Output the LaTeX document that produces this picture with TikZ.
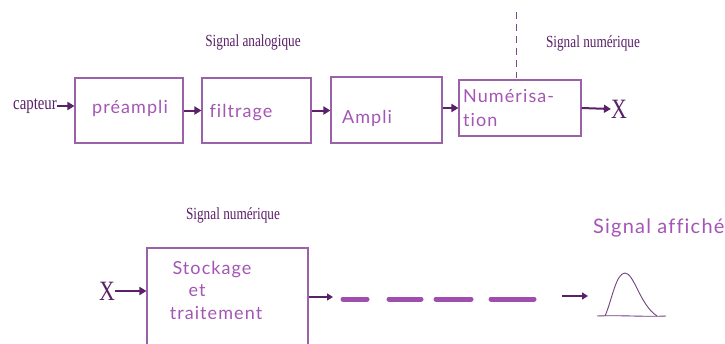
\documentclass[tikz,border=0pt]{standalone}
\usepackage{fontspec}
\usetikzlibrary{arrows.meta}
\newfontfamily\labelfont[FakeStretch=0.78]{Liberation Serif}
\newfontfamily\hand[LetterSpace=6,Ligatures=NoCommon]{Lato}
\definecolor{boxpurple}{HTML}{9A62A8}
\definecolor{darkpurple}{HTML}{5A2068}
\definecolor{inkpurple}{HTML}{A456B4}
\definecolor{dashpurple}{HTML}{A04DB0}
\tikzset{
  block/.style={draw=boxpurple, line width=1.1pt, fill=white, inner sep=0pt},
  lbl/.style={font=\labelfont\fontsize{17}{19}\selectfont, text=darkpurple, inner sep=0pt},
  inked/.style={font=\hand\fontsize{18}{20}\selectfont, text=inkpurple, inner sep=0pt},
  flow/.style={draw=darkpurple, line width=2pt, -{Triangle[length=7pt,width=8pt]}},
  thinflow/.style={draw=darkpurple, line width=1.4pt, -{Triangle[length=6pt,width=7pt]}},
  bigx/.style={font=\labelfont\fontsize{28}{30}\selectfont, text=darkpurple, inner sep=0pt},
  thickdash/.style={draw=dashpurple, line width=5pt, line cap=round}
}
\begin{document}
\begin{tikzpicture}[x=1pt,y=-1pt]
\clip (0,0) rectangle (725,343);
\fill[white] (0,0) rectangle (725,343);

% --- top row: analogue chain ---
\node[lbl] (analog) at (253,42) {Signal analogique};
\node[lbl] (numtop) at (593,43) {Signal numérique};
\coordinate (sepTop) at (516,12);
\coordinate (sepBot) at (516,78);
\draw[darkpurple!80, line width=0.9pt, dash pattern=on 7pt off 5pt] (sepTop) -- (sepBot);

\node[lbl, anchor=east, font=\labelfont\fontsize{19}{21}\selectfont] (capteur) at (57,106) {capteur};
\node[block, minimum width=108pt, minimum height=65pt] (b1) at (129,110.5) {};
\node[block, minimum width=109pt, minimum height=65pt] (b2) at (256.5,110.5) {};
\node[block, minimum width=111pt, minimum height=66pt] (b3) at (386.5,110) {};
\node[block, minimum width=122pt, minimum height=56pt] (b4) at (520,108) {};
\node[bigx] (xout) at (619,109) {X};

\node[inked] (t1) at (130,108) {préampli};
\node[inked] (t2) at (241,113) {filtrage};
\node[inked] (t3) at (367,118) {Ampli};
\node[inked, anchor=west] (t4a) at (463,96) {Numérisa-};
\node[inked, anchor=west] (t4b) at (463,120) {tion};

\draw[flow] (capteur.east) -- (b1.west |- capteur.east);
\draw[flow] (b1.east) -- (b2.west);
\draw[flow] (b2.east) -- (b3.west |- b2.east);
\draw[flow] (b3.east |- b4.east) -- (b4.west);
\draw[flow] (b4.east) -- (xout.west);

% --- bottom row: digital processing and display ---
\node[lbl] (numbot) at (233,215) {Signal numérique};
\node[bigx] (xin) at (107,291) {X};
\node[block, minimum width=161pt, minimum height=112pt] (b5) at (227.5,304) {};
\node[inked] (s1) at (212,270) {Stockage};
\node[inked] (s2) at (197,291) {et};
\node[inked] (s3) at (216,313) {traitement};

\coordinate (d0) at (333,297);
\draw[flow] (xin.east) -- (b5.west |- xin.east);
\draw[thinflow] (b5.east |- d0) -- (d0);
\draw[thickdash] (343,299) -- (367,299);
\draw[thickdash] (389,299) -- (421,299);
\draw[thickdash] (436,299) -- (471,299);
\draw[thickdash] (491,299) -- (534,299);

\coordinate (a0) at (562,296);
\coordinate (a1) at (588,296);
\draw[thinflow] (a0) -- (a1);

% displayed pulse
\draw[darkpurple!85, line width=0.9pt] (597,316) .. controls (620,315) and (645,317) .. (666,316);
\draw[darkpurple!85, line width=0.9pt] (605,316) .. controls (612,300) and (616,273) .. (625,273)
  .. controls (634,273) and (640,305) .. (657,316);
\node[inked, anchor=west, font=\hand\fontsize{20}{22}\selectfont] (shown) at (593,228) {Signal affiché};
\end{tikzpicture}
\end{document}
